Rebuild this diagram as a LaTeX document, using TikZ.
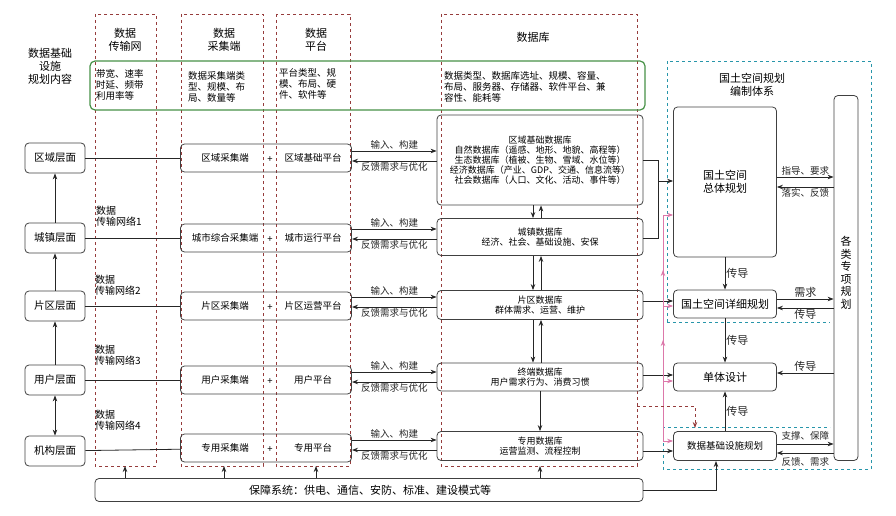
\documentclass[tikz,border=0pt]{standalone}
\usepackage{fontspec}
\setmainfont{Noto Sans CJK SC}
\usetikzlibrary{arrows.meta,calc}
\definecolor{colred}{RGB}{150,60,60}
\definecolor{colgreen}{RGB}{70,145,70}
\definecolor{colteal}{RGB}{40,150,170}
\definecolor{colpink}{RGB}{220,120,170}
\begin{document}
\begin{tikzpicture}[x=1pt,y=-1pt,
  >={Stealth[length=6pt,width=4.5pt]},
  every node/.style={inner sep=1pt},
  col/.style={draw=colred,dashed,semithick},
  rbox/.style={draw=black!75,rounded corners=4pt,thick},
  lvl/.style={rbox,minimum width=60,minimum height=30,font=\fontsize{10.5}{12}\selectfont},
  combo/.style={rbox,minimum width=171,minimum height=28},
  txt/.style={font=\fontsize{9.5}{11}\selectfont},
  small/.style={font=\fontsize{9}{10}\selectfont,align=center},
  lab/.style={font=\fontsize{10}{11}\selectfont,align=left},
  ttl/.style={font=\fontsize{11}{13}\selectfont,align=center},
  arr/.style={->,thick,black!85}]
\useasboundingbox (0,0) rectangle (896,516);
% columns
\draw[col] (95,14) rectangle (156,466);
\draw[col] (181,14) rectangle (263,466);
\draw[col] (276,14) rectangle (350,466);
\draw[col] (441,14) rectangle (637,466);
\node[ttl] (t1) at (125,40) {数据\\传输网};
\node[ttl] (t2) at (224,40) {数据\\采集端};
\node[ttl] (t3) at (316,40) {数据\\平台};
\node[ttl] (t4) at (533,37) {数据库};
\node[ttl] (t0) at (50,66) {数据基础\\设施\\规划内容};
% green
\draw[colgreen,very thick,rounded corners=5pt] (90,61) rectangle (645,110);
\node[lab,anchor=west,font=\fontsize{9.5}{11}\selectfont] (g1) at (95,85) {带宽、速率\\时延、频带\\利用率等};
\node[lab,anchor=west,font=\fontsize{9.5}{11}\selectfont] (g2) at (187,87) {数据采集端类\\型、规模、布\\局、数量等};
\node[lab,anchor=west,font=\fontsize{9.5}{11}\selectfont] (g3) at (278,84) {平台类型、规\\模、布局、硬\\件、软件等};
\node[lab,anchor=west,font=\fontsize{9.5}{11}\selectfont] (g4) at (443,87) {数据类型、数据库选址、规模、容量、\\布局、服务器、存储器、软件平台、兼\\容性、能耗等};
% levels
\node[lvl] (L1) at (55,158) {区域层面};
\node[lvl] (L2) at (55,238) {城镇层面};
\node[lvl] (L3) at (55,306) {片区层面};
\node[lvl] (L4) at (55,380) {用户层面};
\node[lvl] (L5) at (55,451) {机构层面};
\draw[arr] (L2) -- (L1);
\draw[arr] (L3) -- (L2);
\draw[arr] (L4) -- (L3);
\draw[arr,<->] (L4) -- (L5);
\node[lab,anchor=west] (n1) at (95,216) {数据\\传输网络1};
\node[lab,anchor=west] (n2) at (94,285) {数据\\传输网络2};
\node[lab,anchor=west] (n3) at (94,355) {数据\\传输网络3};
\node[lab,anchor=west] (n4) at (94,420) {数据\\传输网络4};
% combos
\foreach \i/\y/\a/\b in {1/158/区域采集端/区域基础平台,2/238/城市综合采集端/城市运行平台,3/306/片区采集端/片区运营平台,4/380/用户采集端/用户平台,5/448/专用采集端/专用平台}{
  \node[combo] (C\i) at (266,\y) {};
  \node[txt] (Ca\i) at (225,\y) {\a};
  \node[txt] (Cp\i) at (270,\y+2) {+};
  \node[txt] (Cb\i) at (313,\y) {\b};
}
\foreach \i in {1,...,5}{\draw[thick,black!85] (L\i) -- (C\i);}
% databases
\node[rbox,minimum width=206,minimum height=90,small] (D1) at (540,160) {区域基础数据库\\自然数据库（遥感、地形、地貌、高程等）\\生态数据库（植被、生物、雪域、水位等）\\经济数据库（产业、GDP、交通、信息流等）\\社会数据库（人口、文化、活动、事件等）};
\node[rbox,minimum width=206,minimum height=37,small] (D2) at (540,237) {城镇数据库\\经济、社会、基础设施、安保};
\node[rbox,minimum width=206,minimum height=29,small] (D3) at (540,305) {片区数据库\\群体需求、运营、维护};
\node[rbox,minimum width=206,minimum height=28,small] (D4) at (540,377) {终端数据库\\用户需求行为、消费习惯};
\node[rbox,minimum width=206,minimum height=29,small] (D5) at (540,446) {专用数据库\\运营监测、流程控制};
\foreach \i/\y in {1/151,2/229,3/297,4/372,5/440}{
  \coordinate (pa\i) at (352,\y);
  \coordinate (pb\i) at (352,\y+10);
  \draw[arr] (pa\i) -- (pa\i -| D1.west) node[midway,above,txt] {输入、构建};
  \draw[arr] (pb\i -| D1.west) -- (pb\i) node[midway,below,txt] {反馈需求与优化};
}
\foreach \u/\l in {1/2,2/3,3/4}{
  \draw[arr] (D\u.south -| 533,0) -- (D\l.north -| 533,0);
  \draw[arr] (D\l.north -| 541,0) -- (D\u.south -| 541,0);
}
\draw[arr] (D4.south -| 540,0) -- (D5.north -| 540,0);
% right system
\draw[colteal,dashed,semithick] (667,322) -- (667,61) -- (871,61) -- (871,469) -- (663,469) -- (663,427) -- (830,427);
\draw[colteal,dashed,semithick] (667,322) -- (830,322);
\node[ttl] (t5) at (752,85) {国土空间规划\\编制体系};
\node[rbox,minimum width=103,minimum height=150,ttl] (P1) at (725,182) {国土空间\\总体规划};
\node[rbox,minimum width=103,minimum height=28,ttl] (P2) at (725,304) {国土空间详细规划};
\node[rbox,minimum width=103,minimum height=28,ttl] (P3) at (725,377) {单体设计};
\node[rbox,minimum width=103,minimum height=29,txt] (P4) at (725,446) {数据基础设施规划};
\node[rbox,minimum width=24,minimum height=365,ttl] (S) at (846,278) {};
\node[ttl,font=\fontsize{11}{12.5}\selectfont] (St) at (846,273) {各\\类\\专\\项\\规\\划};
\draw[arr] (P1.east |- 0,177) -- (S.west |- 0,177) node[midway,above,txt] {指导、要求};
\draw[arr] (S.west |- 0,187) -- (P1.east |- 0,187) node[midway,below,txt] {落实、反馈};
\draw[arr] (P1) -- (P2) node[midway,right,ttl] {传导};
\draw[arr] (P2) -- (P3) node[midway,right,ttl] {传导};
\draw[arr] (P4) -- (P3) node[midway,right,ttl] {传导};
\draw[arr] (P2.east |- 0,299) -- (S.west |- 0,299) node[midway,above,ttl] {需求};
\draw[arr] (S.west |- 0,308) -- (P2.east |- 0,308) node[midway,below,ttl] {传导};
\draw[arr] (S.west |- 0,373) -- (P3.east |- 0,373) node[midway,above,ttl] {传导};
\draw[arr] (P4.east |- 0,444) -- (S.west |- 0,444) node[midway,above=2pt,txt] {支撑、保障};
\draw[arr] (S.west |- 0,453) -- (P4.east |- 0,453) node[midway,below=3pt,txt] {反馈、需求};
% db to planning
\coordinate (m1) at (658,181);
\draw[thick,black!85] (D1.east |- 0,160) -| (m1);
\draw[thick,black!85] (D2.east |- 0,238) -| (m1);
\draw[arr] (m1) -- (P1.west |- m1);
\draw[arr] (D3.east |- 0,301) -- (P2.west |- 0,301);
\draw[arr] (D4.east |- 0,375) -- (P3.west |- 0,375);
\draw[arr] (D5.east |- 0,451) -- (P4.west |- 0,451);
% pink
\coordinate (k0) at (663,441);
\draw[colpink,thick,-{Stealth[length=6pt,width=4.5pt]}] (k0) -- (663,340);
\draw[colpink,thick,-{Stealth[length=6pt,width=4.5pt]}] (663,345) -- (663,270);
\draw[colpink,thick] (663,275) -- (663,215);
\foreach \y/\p in {215/P1,306/P2,381/P3,441/P4}{\draw[colpink,thick,->] (663,\y) -- (\p.west |- 0,\y);}
% red dashed
\coordinate (r0) at (637,406);
\draw[colred,dashed,thick,->] (r0) -| (695,428);
% bottom
\node[rbox,minimum width=548,minimum height=23,ttl] (B) at (369,490) {};
\node[ttl] (Bt) at (370,490) {保障系统：供电、通信、安防、标准、建设模式等};
\foreach \x in {125,224,316,540}{\draw[arr] (\x,478) -- (\x,466);}
\draw[arr] (B.east) -| (716,461);
\end{tikzpicture}
\end{document}
